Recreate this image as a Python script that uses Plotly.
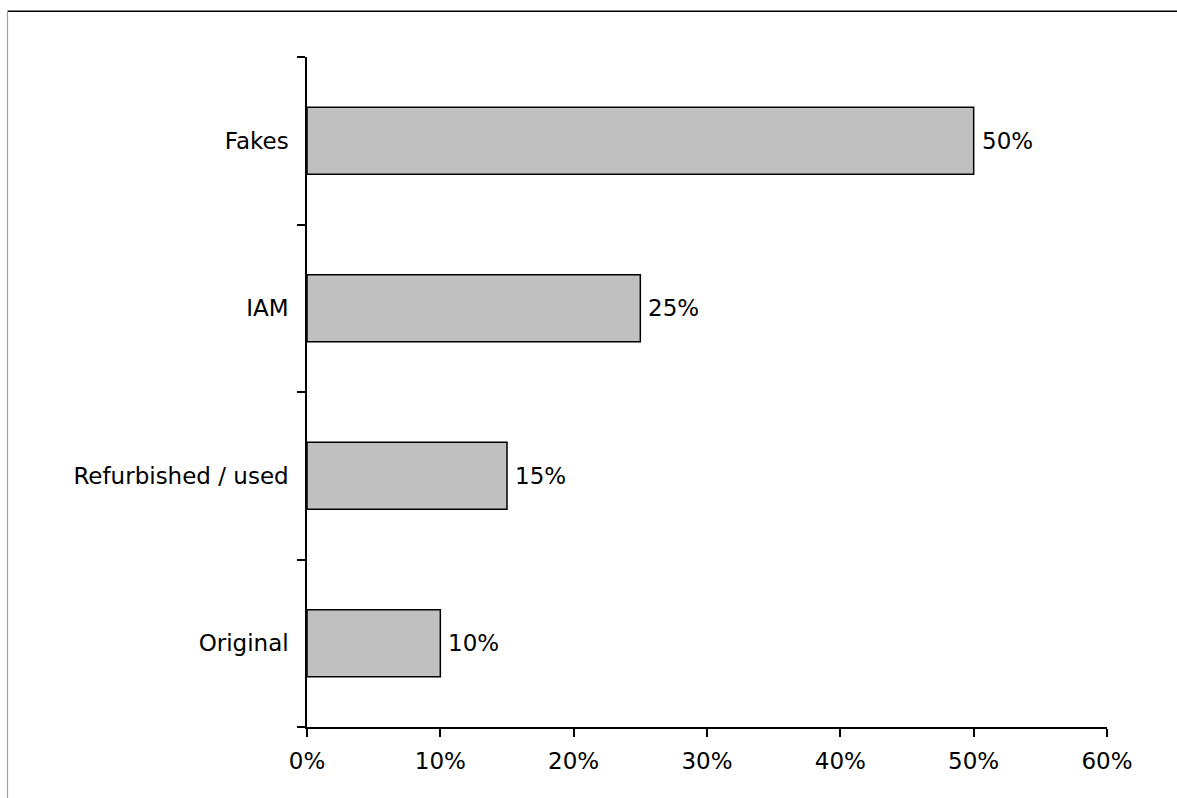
import plotly.graph_objects as go

# Share of each parts category
categories = ["Original", "Refurbished / used", "IAM", "Fakes"]
shares = [0.10, 0.15, 0.25, 0.50]
x_tick_values = [0.0, 0.1, 0.2, 0.3, 0.4, 0.5, 0.6]
x_tick_labels = ["0%", "10%", "20%", "30%", "40%", "50%", "60%"]

FONT = dict(family="DejaVu Sans, Verdana, sans-serif", size=23, color="black")

fig = go.Figure()
fig.add_trace(go.Bar(
    x=shares,
    y=categories,
    orientation="h",
    marker=dict(color="#c0c0c0", line=dict(color="black", width=1.5)),
    hoverinfo="skip",
))

# value labels to the right of each bar
for cat, val in zip(categories, shares):
    fig.add_annotation(
        x=val, y=cat, xref="x", yref="y",
        text=f"{val * 100:.0f}%", showarrow=False,
        xanchor="left", yanchor="middle", xshift=6,
        font=FONT,
    )

W, H = 1177, 798
L, R, T, B = 307, 70, 57, 71
pw, ph = W - L - R, H - T - B


def px_x(p):
    return (p - L) / pw


def px_y(p):
    return (H - B - p) / ph


# outer frame: black top edge, grey left edge
fig.add_shape(type="line", xref="paper", yref="paper",
              x0=px_x(7.5), x1=px_x(W + 5), y0=px_y(11.3), y1=px_y(11.3),
              line=dict(color="black", width=1.5))
fig.add_shape(type="line", xref="paper", yref="paper",
              x0=px_x(7.5), x1=px_x(7.5), y0=px_y(11.3), y1=px_y(H + 5),
              line=dict(color="#a0a0a0", width=1.2))

fig.update_layout(
    width=W, height=H,
    margin=dict(l=L, r=R, t=T, b=B, pad=0),
    paper_bgcolor="white", plot_bgcolor="white",
    showlegend=False,
    bargap=0.6,
    font=FONT,
    xaxis=dict(
        range=[0, 0.6], tickvals=x_tick_values, ticktext=x_tick_labels,
        showgrid=False, zeroline=False,
        showline=True, linecolor="black", linewidth=1.5,
        ticks="outside", ticklen=8, tickwidth=1.5, tickcolor="black",
        ticklabelstandoff=5,
    ),
    yaxis=dict(
        type="category", categoryorder="array", categoryarray=categories,
        range=[-0.5, 3.5],
        showgrid=False, zeroline=False,
        showline=True, linecolor="black", linewidth=1.5,
        ticks="outside", ticklen=8, tickwidth=1.5, tickcolor="black",
        tickson="boundaries", ticklabelstandoff=12,
    ),
)

fig.write_html("out.html")
